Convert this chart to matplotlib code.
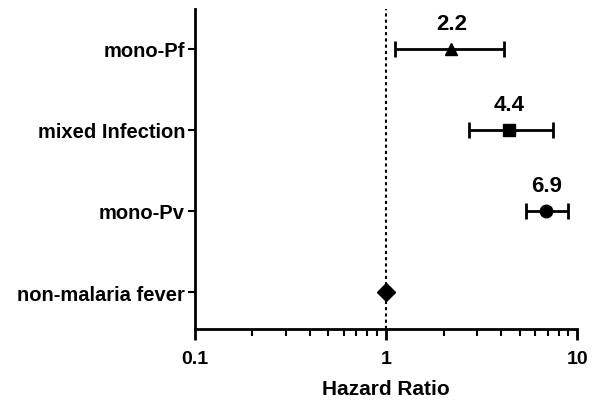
import matplotlib.pyplot as plt
from matplotlib.ticker import LogLocator, FixedLocator, NullFormatter

plt.rcParams['font.family'] = ['Liberation Sans', 'DejaVu Sans']
plt.rcParams['font.weight'] = 'bold'

# hazard ratios with 95% confidence intervals
groups = ["non-malaria fever", "mono-Pv", "mixed Infection", "mono-Pf"]
hr = [1.0, 6.9, 4.4, 2.2]
ci_low = [1.0, 5.4, 2.72, 1.11]
ci_high = [1.0, 8.97, 7.5, 4.15]
markers = ["D", "o", "s", "^"]
hr_labels = ["", "6.9", "4.4", "2.2"]

fig = plt.figure(figsize=(5.92, 4.06), dpi=100)
ax = fig.add_axes([0.329, 0.187, 0.646, 0.788])

ax.axvline(1, color="black", linestyle=(0, (1.5, 1.5)), linewidth=1.5, zorder=1)

for i, g in enumerate(groups):
    err = [[hr[i] - ci_low[i]], [ci_high[i] - hr[i]]]
    ax.errorbar(hr[i], i, xerr=err, fmt=markers[i], color="black",
                markersize=9, elinewidth=2, capsize=5.5, capthick=2, zorder=3)
    if hr_labels[i]:
        ax.annotate(hr_labels[i], (hr[i], i), xytext=(0, 14.5),
                    textcoords="offset points", ha="center", va="baseline",
                    fontsize=16, fontweight="bold")

ax.set_xscale("log")
ax.set_xlim(0.1, 10)
ax.set_ylim(-0.457, 3.49)
ax.set_xticks([0.1, 1, 10])
ax.set_xticklabels(["0.1", "1", "10"])
ax.xaxis.set_minor_locator(LogLocator(base=10, subs=range(2, 10)))
ax.xaxis.set_minor_formatter(NullFormatter())
ax.yaxis.set_major_locator(FixedLocator(range(len(groups))))
ax.set_yticklabels(groups)

for side in ["top", "right"]:
    ax.spines[side].set_visible(False)
for side in ["left", "bottom"]:
    ax.spines[side].set_linewidth(2)

ax.tick_params(axis="x", which="major", length=8, width=2, direction="out",
               labelsize=14, pad=7)
ax.tick_params(axis="x", which="minor", length=5, width=1.5, direction="out")
ax.tick_params(axis="y", length=5, width=1.5, labelsize=14.5, pad=2)

ax.set_xlabel("Hazard Ratio", fontsize=15, fontweight="bold", labelpad=9)

fig.savefig("out.png", dpi=100)
